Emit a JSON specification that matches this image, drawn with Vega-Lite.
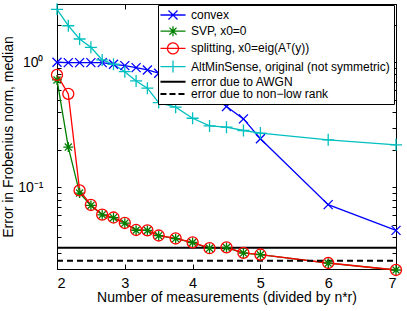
{
  "$schema": "https://vega.github.io/schema/vega-lite/v6.json",
  "width": 339,
  "height": 265,
  "autosize": {"type": "none"},
  "padding": {"left": 57, "top": 4, "right": 11, "bottom": 42},
  "background": "white",
  "config": {
    "view": {"stroke": "black", "strokeWidth": 1},
    "font": "Liberation Sans",
    "axis": {
      "domainColor": "black", "tickColor": "black", "labelColor": "black", "titleColor": "black",
      "labelFont": "Liberation Sans", "titleFont": "Liberation Sans",
      "labelFontSize": 14.5, "titleFontSize": 14, "titleFontWeight": "normal",
      "grid": false, "domainWidth": 1, "tickWidth": 1
    }
  },
  "data": {
    "values": [
      {"s": "c", "x": 2, "y": 1.0}, {"s": "c", "x": 2.1667, "y": 0.993}, {"s": "c", "x": 2.3333, "y": 0.993},
      {"s": "c", "x": 2.5, "y": 0.993}, {"s": "c", "x": 2.6667, "y": 0.993}, {"s": "c", "x": 2.8333, "y": 0.964},
      {"s": "c", "x": 3, "y": 0.94}, {"s": "c", "x": 3.1667, "y": 0.906}, {"s": "c", "x": 3.3333, "y": 0.868},
      {"s": "c", "x": 3.5, "y": 0.817}, {"s": "c", "x": 3.75, "y": 0.75}, {"s": "c", "x": 4, "y": 0.66},
      {"s": "c", "x": 4.25, "y": 0.55}, {"s": "c", "x": 4.5, "y": 0.443}, {"s": "c", "x": 4.75, "y": 0.353},
      {"s": "c", "x": 5, "y": 0.245}, {"s": "c", "x": 6, "y": 0.0729}, {"s": "c", "x": 7, "y": 0.0454},

      {"s": "v", "x": 2, "y": 0.722}, {"s": "v", "x": 2.1667, "y": 0.21}, {"s": "v", "x": 2.3333, "y": 0.0902},
      {"s": "v", "x": 2.5, "y": 0.0718}, {"s": "v", "x": 2.6667, "y": 0.0604}, {"s": "v", "x": 2.8333, "y": 0.0573},
      {"s": "v", "x": 3, "y": 0.0518}, {"s": "v", "x": 3.1667, "y": 0.0455}, {"s": "v", "x": 3.3333, "y": 0.0453},
      {"s": "v", "x": 3.5, "y": 0.0412}, {"s": "v", "x": 3.75, "y": 0.039}, {"s": "v", "x": 4, "y": 0.0363},
      {"s": "v", "x": 4.25, "y": 0.0326}, {"s": "v", "x": 4.5, "y": 0.0331}, {"s": "v", "x": 4.75, "y": 0.0299},
      {"s": "v", "x": 5, "y": 0.029}, {"s": "v", "x": 6, "y": 0.0248}, {"s": "v", "x": 7, "y": 0.0219},

      {"s": "p", "x": 2, "y": 0.792}, {"s": "p", "x": 2.1667, "y": 0.559}, {"s": "p", "x": 2.3333, "y": 0.0947},
      {"s": "p", "x": 2.5, "y": 0.0724}, {"s": "p", "x": 2.6667, "y": 0.0606}, {"s": "p", "x": 2.8333, "y": 0.0575},
      {"s": "p", "x": 3, "y": 0.052}, {"s": "p", "x": 3.1667, "y": 0.0457}, {"s": "p", "x": 3.3333, "y": 0.0454},
      {"s": "p", "x": 3.5, "y": 0.0413}, {"s": "p", "x": 3.75, "y": 0.0391}, {"s": "p", "x": 4, "y": 0.0364},
      {"s": "p", "x": 4.25, "y": 0.0327}, {"s": "p", "x": 4.5, "y": 0.0332}, {"s": "p", "x": 4.75, "y": 0.03},
      {"s": "p", "x": 5, "y": 0.0291}, {"s": "p", "x": 6, "y": 0.0249}, {"s": "p", "x": 7, "y": 0.0219},

      {"s": "a", "x": 2, "y": 2.647}, {"s": "a", "x": 2.1667, "y": 1.958}, {"s": "a", "x": 2.3333, "y": 1.534},
      {"s": "a", "x": 2.5, "y": 1.317}, {"s": "a", "x": 2.6667, "y": 1.043}, {"s": "a", "x": 2.8333, "y": 0.964},
      {"s": "a", "x": 3, "y": 0.841}, {"s": "a", "x": 3.1667, "y": 0.709}, {"s": "a", "x": 3.3333, "y": 0.621},
      {"s": "a", "x": 3.5, "y": 0.476}, {"s": "a", "x": 3.75, "y": 0.438}, {"s": "a", "x": 4, "y": 0.357},
      {"s": "a", "x": 4.25, "y": 0.31}, {"s": "a", "x": 4.5, "y": 0.303}, {"s": "a", "x": 4.75, "y": 0.285},
      {"s": "a", "x": 5, "y": 0.272}, {"s": "a", "x": 6, "y": 0.24}, {"s": "a", "x": 7, "y": 0.219},

      {"s": "w", "x": 2, "y": 0.0329}, {"s": "w", "x": 7, "y": 0.0329},
      {"s": "n", "x": 2, "y": 0.026}, {"s": "n", "x": 7, "y": 0.026}
    ]
  },
  "encoding": {
    "color": {
      "field": "s", "type": "nominal",
      "scale": {"domain": ["c", "v", "p", "a", "w", "n"], "range": ["#0000FF", "#008000", "#FF0000", "#00BFBF", "#000000", "#000000"]},
      "legend": {
        "title": null, "orient": "none", "legendX": 101, "legendY": 1,
        "padding": 4, "strokeColor": "black", "fillColor": "white", "cornerRadius": 0,
        "symbolSize": 225, "symbolOffset": 5, "labelOffset": 12,
        "labelFontSize": 12, "labelFont": "Liberation Sans", "labelColor": "black", "labelLimit": 0,
        "rowPadding": 0.2, "symbolStrokeWidth": 1.3,
        "labelExpr": "datum.label == 'c' ? 'convex' : datum.label == 'v' ? 'SVP, x0=0' : datum.label == 'p' ? 'splitting, x0=eig(Aᵀ(y))' : datum.label == 'a' ? 'AltMinSense, original (not symmetric)' : datum.label == 'w' ? 'error due to AWGN' : 'error due to non−low rank'",
        "encode": {
          "symbols": {
            "update": {
              "shape": {"signal": "['M-1.67,0L1.67,0M-0.6,-0.6L0.6,0.6M-0.6,0.6L0.6,-0.6', 'M-1.67,0L1.67,0M0,-0.67L0,0.67M-0.47,-0.47L0.47,0.47M-0.47,0.47L0.47,-0.47', 'M-1.67,0L1.67,0M0.73,0A0.73,0.73,0,1,1,-0.73,0A0.73,0.73,0,1,1,0.73,0', 'M-1.67,0L1.67,0M0,-0.8L0,0.8', 'M-1.67,0L1.67,0', 'M-1.67,0L1.67,0'][datum.index]"},
              "strokeDash": {"signal": "datum.index == 5 ? [6, 3] : [1, 0]"},
              "strokeWidth": {"signal": "datum.index >= 4 ? 2 : 1.3"},
              "fill": {"value": "transparent"},
              "stroke": {"scale": "color", "field": "value"},
              "opacity": {"value": 1}
            }
          }
        }
      }
    }
  },
  "layer": [
    {
      "transform": [{"filter": {"field": "s", "oneOf": ["c", "v", "p", "a"]}}],
      "mark": {"type": "line", "strokeWidth": 1.3},
      "encoding": {
        "x": {"field": "x", "type": "quantitative", "scale": {"domain": [2, 7], "nice": false, "zero": false},
          "axis": {"orient": "bottom", "values": [2, 3, 4, 5, 6, 7], "tickSize": -5, "labelPadding": 12, "format": "d",
            "title": "Number of measurements (divided by n*r)", "titlePadding": 1}},
        "y": {"field": "y", "type": "quantitative", "scale": {"type": "log", "domain": [0.0223, 2.92], "nice": false},
          "axis": {"orient": "left", "values": [0.03, 0.04, 0.05, 0.06, 0.07, 0.08, 0.09, 0.1, 0.2, 0.3, 0.4, 0.5, 0.6, 0.7, 0.8, 0.9, 1, 2],
            "tickSize": -4, "labelPadding": 18, "labelOverlap": false, "labelFontSize": 14,
            "labelExpr": "abs(datum.value - 1) < 1e-9 ? '10⁰' : (abs(datum.value - 0.1) < 1e-9 ? '10⁻¹' : '')",
            "title": "Error in Frobenius norm, median", "titlePadding": 2}}
      }
    },
    {
      "transform": [{"filter": {"field": "s", "oneOf": ["w", "n"]}}],
      "mark": {"type": "line", "strokeWidth": 2},
      "encoding": {
        "x": {"field": "x", "type": "quantitative", "scale": {"domain": [2, 7], "nice": false, "zero": false}, "axis": null},
        "y": {"field": "y", "type": "quantitative", "scale": {"type": "log", "domain": [0.0223, 2.92], "nice": false}, "axis": null},
        "strokeDash": {"field": "s", "type": "nominal", "scale": {"domain": ["w", "n"], "range": [[1, 0], [6, 4]]}, "legend": null}
      }
    },
    {
      "transform": [{"filter": {"field": "s", "oneOf": ["c", "v", "p", "a"]}}],
      "mark": {"type": "point", "filled": false, "strokeWidth": 1.3, "size": 144, "opacity": 1},
      "encoding": {
        "x": {"field": "x", "type": "quantitative", "scale": {"domain": [2, 7], "nice": false, "zero": false},
          "axis": {"orient": "top", "values": [2, 3, 4, 5, 6, 7], "tickSize": -5, "labels": false, "title": null}},
        "y": {"field": "y", "type": "quantitative", "scale": {"type": "log", "domain": [0.0223, 2.92], "nice": false},
          "axis": {"orient": "right", "values": [0.03, 0.04, 0.05, 0.06, 0.07, 0.08, 0.09, 0.1, 0.2, 0.3, 0.4, 0.5, 0.6, 0.7, 0.8, 0.9, 1, 2],
            "tickSize": -4, "labels": false, "title": null}},
        "shape": {"field": "s", "type": "nominal", "legend": null,
          "scale": {"domain": ["c", "v", "p", "a"],
            "range": ["M-0.75,-0.75L0.75,0.75M-0.75,0.75L0.75,-0.75",
                      "M-0.83,0L0.83,0M0,-0.83L0,0.83M-0.59,-0.59L0.59,0.59M-0.59,0.59L0.59,-0.59",
                      "M0.92,0A0.92,0.92,0,1,1,-0.92,0A0.92,0.92,0,1,1,0.92,0",
                      "M-1,0L1,0M0,-1L0,1"]}}
      }
    }
  ],
  "resolve": {"axis": {"x": "independent", "y": "independent"}}
}
